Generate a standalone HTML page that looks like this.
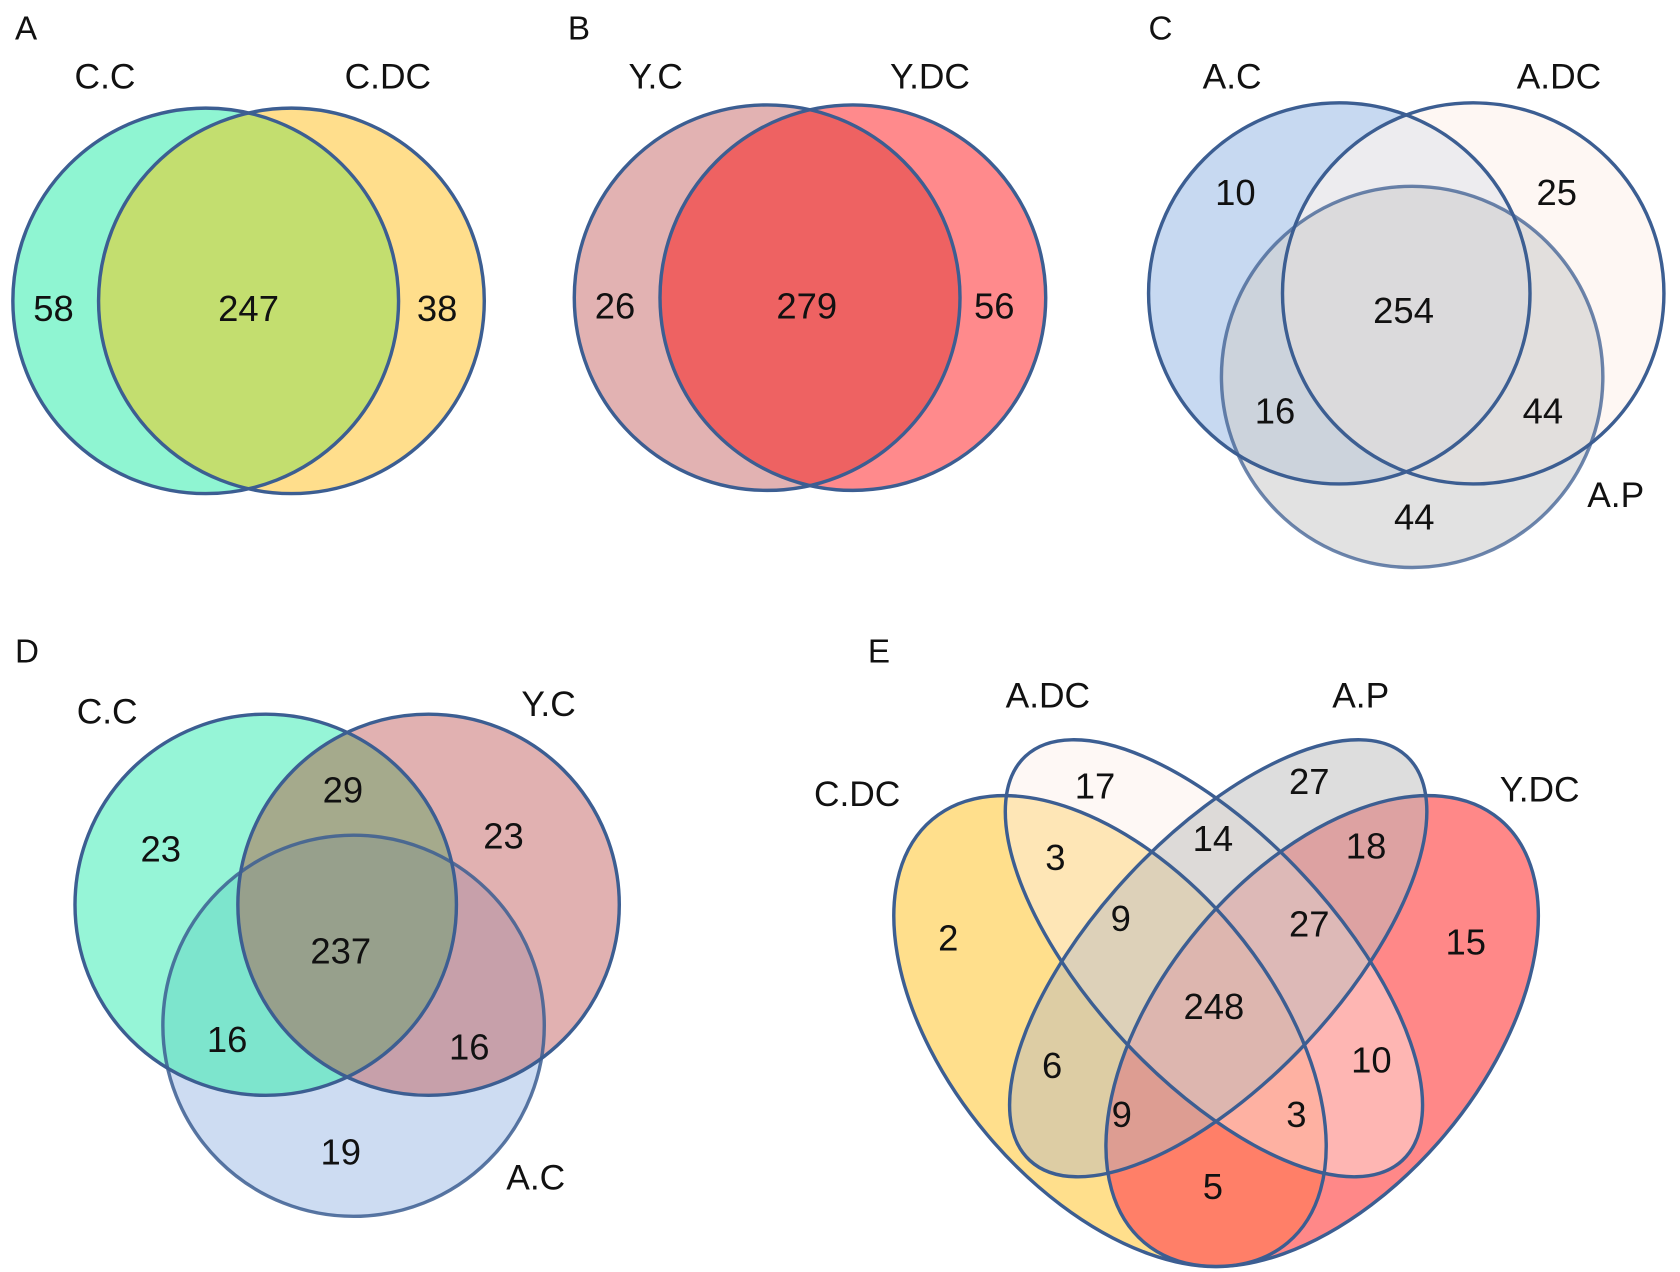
<!DOCTYPE html>
<html><head><meta charset="utf-8"><style>
html,body{margin:0;padding:0;background:#fff;overflow:hidden;width:1680px;height:1272px;}
svg{display:block;position:absolute;left:0;top:0;}
text{font-family:"Liberation Sans",Arial,sans-serif;fill:#111;}
.n{font-size:34px;text-anchor:middle;dominant-baseline:central;}
.l{font-size:33px;text-anchor:middle;dominant-baseline:central;}
.p{font-size:31px;dominant-baseline:central;}
.s{fill:none;stroke:#3c5e92;stroke-width:3.2;}
</style></head><body>
<svg width="1680" height="1272" viewBox="0 0 1568 1188" preserveAspectRatio="none" xmlns="http://www.w3.org/2000/svg">
<defs>
<clipPath id="cA"><circle cx="192" cy="281" r="180"/></clipPath>
<clipPath id="cB"><circle cx="716" cy="278" r="180"/></clipPath>
<clipPath id="dCC"><circle cx="248" cy="845" r="178"/></clipPath>
<clipPath id="dYC"><circle cx="400" cy="845" r="178"/></clipPath>
<clipPath id="dAC"><circle cx="330" cy="958" r="178"/></clipPath>
</defs>

<!-- Panel A -->
<g>
<text class="p" x="14" y="27">A</text>
<circle cx="192" cy="281" r="180" fill="#8ff5d2"/>
<circle cx="272" cy="281" r="180" fill="#ffde8c"/>
<circle cx="272" cy="281" r="180" fill="#c3de6f" clip-path="url(#cA)"/>
<circle class="s" cx="192" cy="281" r="180"/>
<circle class="s" cx="272" cy="281" r="180"/>
<text class="l" x="98" y="72">C.C</text>
<text class="l" x="362" y="72">C.DC</text>
<text class="n" x="50" y="288">58</text>
<text class="n" x="232" y="288">247</text>
<text class="n" x="408" y="288">38</text>
</g>

<!-- Panel B -->
<g>
<text class="p" x="530" y="27">B</text>
<circle cx="716" cy="278" r="180" fill="#e2b2b2"/>
<circle cx="796" cy="278" r="180" fill="#ff8a8c"/>
<circle cx="796" cy="278" r="180" fill="#ee6262" clip-path="url(#cB)"/>
<circle class="s" cx="716" cy="278" r="180"/>
<circle class="s" cx="796" cy="278" r="180"/>
<text class="l" x="612" y="72">Y.C</text>
<text class="l" x="868" y="72">Y.DC</text>
<text class="n" x="574" y="286">26</text>
<text class="n" x="753" y="286">279</text>
<text class="n" x="928" y="286">56</text>
</g>

<!-- Panel C -->
<g>
<text class="p" x="1072" y="27">C</text>
<circle cx="1250" cy="274" r="178" fill="#c7d9f1"/>
<circle cx="1375" cy="274" r="178" fill="#fdf3ee" fill-opacity="0.7"/>
<circle cx="1318" cy="352" r="178" fill="#cfcfcf" fill-opacity="0.6"/>
<circle class="s" cx="1250" cy="274" r="178"/>
<circle class="s" cx="1375" cy="274" r="178"/>
<circle class="s" cx="1318" cy="352" r="178" stroke-opacity="0.75"/>
<text class="l" x="1150" y="72">A.C</text>
<text class="l" x="1455" y="72">A.DC</text>
<text class="l" x="1508" y="463">A.P</text>
<text class="n" x="1153" y="180">10</text>
<text class="n" x="1453" y="180">25</text>
<text class="n" x="1310" y="290">254</text>
<text class="n" x="1190" y="384">16</text>
<text class="n" x="1440" y="384">44</text>
<text class="n" x="1320" y="483">44</text>
</g>

<!-- Panel D -->
<g>
<text class="p" x="14" y="609">D</text>
<circle cx="330" cy="958" r="178" fill="#cddcf2"/>
<circle cx="248" cy="845" r="178" fill="#96f5d7"/>
<circle cx="400" cy="845" r="178" fill="#e1b1b1"/>
<circle cx="400" cy="845" r="178" fill="#a5aa8c" clip-path="url(#dCC)"/>
<circle cx="330" cy="958" r="178" fill="#7de5cd" clip-path="url(#dCC)"/>
<circle cx="330" cy="958" r="178" fill="#c7a0aa" clip-path="url(#dYC)"/>
<g clip-path="url(#dCC)"><circle cx="330" cy="958" r="178" fill="#97a08c" clip-path="url(#dYC)"/></g>
<circle class="s" cx="248" cy="845" r="178"/>
<circle class="s" cx="400" cy="845" r="178"/>
<circle class="s" cx="330" cy="958" r="178" stroke-opacity="0.85"/>
<text class="l" x="100" y="665">C.C</text>
<text class="l" x="512" y="658">Y.C</text>
<text class="l" x="500" y="1100">A.C</text>
<text class="n" x="320" y="738">29</text>
<text class="n" x="150" y="793">23</text>
<text class="n" x="470" y="781">23</text>
<text class="n" x="318" y="888">237</text>
<text class="n" x="212" y="971">16</text>
<text class="n" x="438" y="978">16</text>
<text class="n" x="318" y="1076">19</text>
</g>

<!-- Panel E -->
<g>
<text class="p" x="810" y="609">E</text>
<ellipse cx="1036" cy="963" rx="258" ry="150" transform="rotate(50 1036 963)" fill="#ffdf8c"/>
<ellipse cx="1234" cy="963" rx="258" ry="150" transform="rotate(-50 1234 963)" fill="#ff5a5a" fill-opacity="0.72"/>
<ellipse cx="1133" cy="895" rx="258" ry="114" transform="rotate(47 1133 895)" fill="#fdf0e8" fill-opacity="0.45"/>
<ellipse cx="1137" cy="895" rx="258" ry="114" transform="rotate(-47 1137 895)" fill="#bcbcbc" fill-opacity="0.5"/>
<ellipse class="s" cx="1036" cy="963" rx="258" ry="150" transform="rotate(50 1036 963)"/>
<ellipse class="s" cx="1234" cy="963" rx="258" ry="150" transform="rotate(-50 1234 963)"/>
<ellipse class="s" cx="1133" cy="895" rx="258" ry="114" transform="rotate(47 1133 895)"/>
<ellipse class="s" cx="1137" cy="895" rx="258" ry="114" transform="rotate(-47 1137 895)"/>
<text class="l" x="978" y="650">A.DC</text>
<text class="l" x="1270" y="650">A.P</text>
<text class="l" x="800" y="742">C.DC</text>
<text class="l" x="1437" y="738">Y.DC</text>
<text class="n" x="1022" y="734">17</text>
<text class="n" x="1222" y="730">27</text>
<text class="n" x="985" y="801">3</text>
<text class="n" x="1132" y="783">14</text>
<text class="n" x="1275" y="790">18</text>
<text class="n" x="885" y="876">2</text>
<text class="n" x="1046" y="858">9</text>
<text class="n" x="1222" y="863">27</text>
<text class="n" x="1368" y="880">15</text>
<text class="n" x="1133" y="940">248</text>
<text class="n" x="982" y="995">6</text>
<text class="n" x="1280" y="990">10</text>
<text class="n" x="1047" y="1041">9</text>
<text class="n" x="1210" y="1041">3</text>
<text class="n" x="1132" y="1108">5</text>
</g>
</svg>
</body></html>
